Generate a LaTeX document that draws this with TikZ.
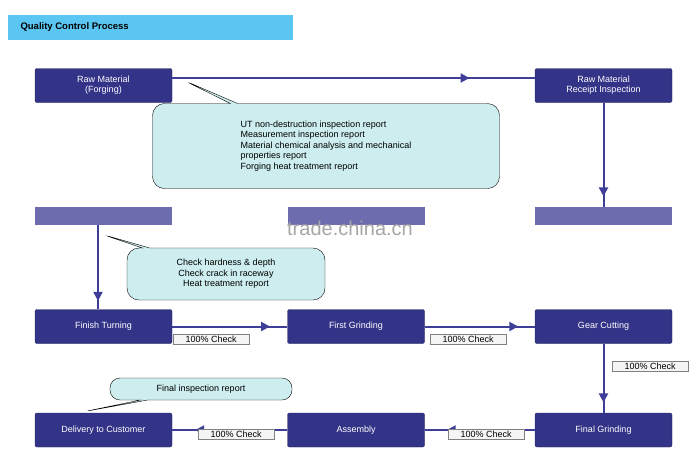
\documentclass[tikz,border=0pt]{standalone}
\usepackage{fontspec}
\setmainfont{Liberation Sans}
\usetikzlibrary{positioning,shapes.callouts,decorations.markings,arrows.meta}
\definecolor{boxblue}{HTML}{333388}
\definecolor{barblue}{HTML}{6C6CAE}
\definecolor{titleblue}{HTML}{5CC6F2}
\definecolor{notefill}{HTML}{CDEDEE}
\definecolor{linkblue}{HTML}{3E3E98}
\begin{document}
\begin{tikzpicture}[x=1pt,y=-1pt,
  procbox/.style={draw=boxblue!70!black,fill=boxblue,text=white,rounded corners=2pt,
    minimum width=137pt,minimum height=34pt,align=center,font=\fontsize{9}{10}\selectfont,inner sep=1pt},
  bar/.style={fill=barblue,minimum width=137pt,minimum height=18pt,inner sep=0pt},
  chk/.style={draw=gray,fill=gray!8,font=\fontsize{9}{10}\selectfont,inner sep=1.5pt,minimum width=76pt},
  note/.style={rectangle callout,rounded corners=12pt,draw=black,fill=notefill,
    font=\fontsize{9}{10.5}\selectfont,inner sep=4pt},
  flow/.style={linkblue,line width=2pt,postaction={decorate,decoration={markings,
    mark=at position #1 with {\arrow{Triangle[length=9pt,width=9pt]}}}}},
  flow/.default=0.8]
\useasboundingbox (0,0) rectangle (700,475);
% title
\node[fill=titleblue,minimum width=285pt,minimum height=25pt,anchor=north west,inner sep=0pt] (title) at (8,15) {};
\node[anchor=west,font=\fontsize{9.5}{10}\selectfont\bfseries] at (17,27.5) {Quality Control Process};
% boxes
\node[procbox] (raw) at (103.5,85.5) {Raw Material\\(Forging)};
\node[procbox] (rec) at (603.5,85.5) {Raw Material\\Receipt Inspection};
\node[bar] (b1) at (103.5,216) {};
\node[bar] (b2) at (356,216) {};
\node[bar] (b3) at (603.5,216) {};
\node[procbox] (fin) at (103.5,326.5) {Finish Turning};
\node[procbox] (fg) at (356,326.5) {First Grinding};
\node[procbox] (gear) at (603.5,326.5) {Gear Cutting};
\node[procbox] (del) at (103.5,430) {Delivery to Customer};
\node[procbox] (asm) at (356,430) {Assembly};
\node[procbox] (final) at (603.5,430) {Final Grinding};
\node[text=gray!70,font=\fontsize{20}{20}\selectfont] (wm) at (350,228) {trade.china.cn};
% connectors
\draw[flow=0.82] (raw.east |- 0,78) -- (rec.west |- 0,78);
\draw[flow=0.9] (rec.south) -- (b3.north);
\draw[flow=0.9] (b1.south -| 98,0) -- (fin.north -| 98,0);
\draw[flow=0.85] (fin) -- (fg);
\draw[flow=0.85] (fg) -- (gear);
\draw[flow=0.85] (gear) -- (final);
\draw[flow=0.8] (final) -- (asm);
\draw[flow=0.8] (asm) -- (del);
% checks
\node[chk,anchor=north west] (c1) at (173,334) {100\% Check};
\node[chk,anchor=north west] (c2) at (430,334) {100\% Check};
\node[chk,anchor=north west] (c3) at (612,361) {100\% Check};
\node[chk,anchor=north west] (c4) at (198,429) {100\% Check};
\node[chk,anchor=north west] (c5) at (448,429) {100\% Check};
% notes
\node[note,align=left,minimum width=347pt,minimum height=85pt,callout absolute pointer={(183,80)}]
  (n1) at (326,146) {UT non-destruction inspection report\\Measurement inspection report\\
  Material chemical analysis and mechanical\\properties report\\Forging heat treatment report};
\node[note,align=center,minimum width=198pt,minimum height=52pt,callout absolute pointer={(101,234)}]
  (n2) at (226,274) {Check hardness \& depth\\Check crack in raceway\\Heat treatment report};
\node[note,minimum width=182pt,minimum height=22pt,rounded corners=10pt,callout absolute pointer={(82,412)}]
  (n3) at (201,389) {Final inspection report};
\end{tikzpicture}
\end{document}
